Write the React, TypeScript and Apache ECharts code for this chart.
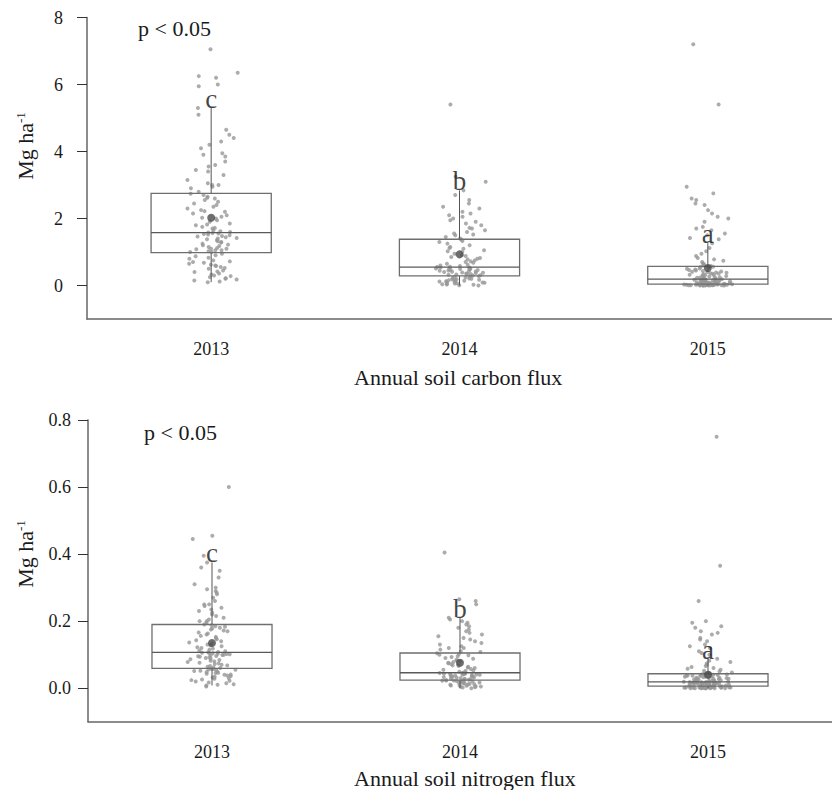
import React, { useEffect, useRef } from "react";
import * as echarts from "echarts";

const years = ["2013", "2014", "2015"];
const letters = ["c", "b", "a"];
const carbonTicks = [0, 2, 4, 6, 8];
const nitrogenTicks = [0, 0.2, 0.4, 0.6, 0.8];

const carbon2013 = [
  0.1, 0.12, 0.15, 0.18, 0.2, 0.22, 0.25, 0.28, 0.3, 0.33, 0.36, 0.4, 0.42, 0.45, 0.5, 0.52, 0.55, 0.58, 0.6, 0.62, 0.65, 0.68, 0.7, 0.72, 0.75, 0.8, 0.83, 0.87, 0.9, 0.95,
  1.0, 1.0, 1.02, 1.05, 1.05, 1.08, 1.1, 1.1, 1.12, 1.15, 1.18, 1.2, 1.22, 1.25, 1.28, 1.3, 1.32, 1.35, 1.38, 1.4, 1.42, 1.44, 1.46, 1.48, 1.5, 1.52, 1.54, 1.55, 1.57, 1.58,
  1.6, 1.62, 1.65, 1.7, 1.72, 1.75, 1.8, 1.82, 1.85, 1.9, 1.95, 2.0, 2.02, 2.05, 2.1, 2.15, 2.2, 2.22, 2.25, 2.3, 2.35, 2.4, 2.45, 2.5, 2.55, 2.6, 2.62, 2.65, 2.7, 2.74,
  2.8, 2.9, 2.95, 3.0, 3.0, 3.05, 3.15, 3.3, 3.4, 3.45, 3.55, 3.6, 3.7, 3.85, 3.9, 3.95, 4.1, 4.2, 4.3, 4.4, 4.5, 4.65, 5.1, 5.3, 5.95, 6.0, 6.2, 6.25, 6.35, 7.05,
];
const carbon2014 = [
  0.0, 0.01, 0.02, 0.03, 0.04, 0.05, 0.06, 0.07, 0.08, 0.09, 0.1, 0.11, 0.12, 0.13, 0.14, 0.15, 0.16, 0.17, 0.18, 0.19, 0.2, 0.21, 0.22, 0.24, 0.25, 0.27, 0.28,
  0.3, 0.31, 0.32, 0.33, 0.34, 0.35, 0.36, 0.37, 0.38, 0.39, 0.4, 0.41, 0.42, 0.43, 0.44, 0.45, 0.46, 0.47, 0.48, 0.49, 0.5, 0.5, 0.51, 0.52, 0.53, 0.54, 0.55,
  0.56, 0.58, 0.6, 0.62, 0.65, 0.68, 0.7, 0.72, 0.75, 0.78, 0.8, 0.82, 0.85, 0.88, 0.9, 0.95, 1.0, 1.02, 1.05, 1.1, 1.12, 1.15, 1.2, 1.25, 1.3, 1.33, 1.37,
  1.4, 1.45, 1.5, 1.52, 1.55, 1.6, 1.65, 1.7, 1.72, 1.8, 1.85, 1.9, 1.95, 2.0, 2.05, 2.1, 2.15, 2.2, 2.3, 2.35, 2.45, 2.55, 2.7, 2.84, 3.1, 3.25, 5.4,
];
const carbon2015 = [
  0.0, 0.0, 0.0, 0.0, 0.0, 0.005, 0.005, 0.005, 0.01, 0.01, 0.01, 0.01, 0.012, 0.015, 0.015, 0.018, 0.02, 0.02, 0.02, 0.022, 0.025, 0.025, 0.028, 0.03, 0.03, 0.03, 0.032, 0.035, 0.035, 0.037, 0.038, 0.039, 0.04,
  0.04, 0.045, 0.05, 0.05, 0.055, 0.06, 0.065, 0.07, 0.07, 0.075, 0.08, 0.085, 0.09, 0.095, 0.1, 0.1, 0.105, 0.11, 0.115, 0.12, 0.125, 0.13, 0.135, 0.14, 0.145, 0.15, 0.155, 0.16, 0.165, 0.17, 0.175, 0.18, 0.185,
  0.19, 0.2, 0.21, 0.22, 0.23, 0.24, 0.25, 0.26, 0.27, 0.28, 0.29, 0.3, 0.31, 0.32, 0.33, 0.34, 0.35, 0.36, 0.37, 0.38, 0.39, 0.4, 0.41, 0.42, 0.43, 0.45, 0.46, 0.48, 0.5, 0.51, 0.53, 0.55, 0.56,
  0.58, 0.6, 0.63, 0.66, 0.7, 0.74, 0.78, 0.82, 0.88, 0.95, 1.02, 1.12, 1.26, 1.38, 1.42, 1.5, 1.55, 1.65, 1.7, 1.75, 1.9, 2.0, 2.05, 2.15, 2.25, 2.4, 2.45, 2.55, 2.6, 2.75, 2.95, 5.4, 7.2,
];

const nitrogen2013 = [
  0.005, 0.008, 0.01, 0.012, 0.015, 0.017, 0.02, 0.022, 0.024, 0.026, 0.028, 0.03, 0.032, 0.034, 0.036, 0.038, 0.04, 0.041, 0.043, 0.045, 0.046, 0.048, 0.05, 0.051, 0.052, 0.054, 0.055, 0.056, 0.057, 0.058,
  0.06, 0.062, 0.064, 0.066, 0.068, 0.07, 0.072, 0.074, 0.076, 0.078, 0.08, 0.082, 0.084, 0.086, 0.088, 0.09, 0.092, 0.094, 0.095, 0.096, 0.098, 0.099, 0.1, 0.101, 0.102, 0.103, 0.104, 0.105, 0.106, 0.107,
  0.108, 0.11, 0.112, 0.115, 0.118, 0.12, 0.122, 0.125, 0.128, 0.13, 0.133, 0.136, 0.14, 0.143, 0.146, 0.15, 0.153, 0.156, 0.16, 0.163, 0.166, 0.17, 0.172, 0.175, 0.178, 0.18, 0.183, 0.185, 0.188, 0.19,
  0.195, 0.2, 0.2, 0.205, 0.21, 0.215, 0.22, 0.225, 0.23, 0.235, 0.24, 0.245, 0.25, 0.25, 0.26, 0.27, 0.28, 0.285, 0.29, 0.295, 0.3, 0.31, 0.33, 0.35, 0.36, 0.375, 0.395, 0.445, 0.455, 0.6,
];
const nitrogen2014 = [
  0.0, 0.002, 0.003, 0.004, 0.005, 0.006, 0.007, 0.008, 0.009, 0.01, 0.011, 0.012, 0.013, 0.014, 0.015, 0.016, 0.017, 0.018, 0.019, 0.02, 0.02, 0.021, 0.022, 0.022, 0.023, 0.023, 0.024,
  0.025, 0.026, 0.027, 0.028, 0.029, 0.03, 0.031, 0.032, 0.033, 0.034, 0.035, 0.035, 0.036, 0.037, 0.038, 0.039, 0.04, 0.04, 0.041, 0.042, 0.042, 0.043, 0.044, 0.044, 0.045, 0.045, 0.046,
  0.047, 0.049, 0.051, 0.053, 0.055, 0.057, 0.06, 0.062, 0.064, 0.066, 0.068, 0.07, 0.072, 0.074, 0.076, 0.078, 0.08, 0.082, 0.085, 0.088, 0.09, 0.093, 0.095, 0.098, 0.1, 0.102, 0.104,
  0.108, 0.11, 0.115, 0.12, 0.12, 0.125, 0.13, 0.135, 0.14, 0.145, 0.15, 0.155, 0.16, 0.165, 0.17, 0.175, 0.18, 0.185, 0.19, 0.195, 0.2, 0.205, 0.21, 0.25, 0.26, 0.265, 0.405,
];
const nitrogen2015 = [
  0, 0, 0, 0, 0, 0, 0, 0, 0.001, 0.001, 0.001, 0.001, 0.001, 0.002, 0.002, 0.002, 0.002, 0.002, 0.003, 0.003, 0.003, 0.003, 0.003, 0.004, 0.004, 0.004, 0.004, 0.005, 0.005, 0.005, 0.005, 0.006, 0.006,
  0.006, 0.007, 0.007, 0.008, 0.008, 0.009, 0.009, 0.01, 0.01, 0.011, 0.011, 0.012, 0.012, 0.013, 0.013, 0.014, 0.014, 0.015, 0.015, 0.015, 0.016, 0.016, 0.016, 0.017, 0.017, 0.017, 0.018, 0.018, 0.018, 0.018, 0.019, 0.019, 0.019,
  0.02, 0.021, 0.022, 0.022, 0.023, 0.024, 0.025, 0.025, 0.026, 0.027, 0.028, 0.028, 0.029, 0.03, 0.031, 0.031, 0.032, 0.033, 0.034, 0.034, 0.035, 0.036, 0.037, 0.037, 0.038, 0.039, 0.04, 0.04, 0.041, 0.041, 0.042, 0.042, 0.043,
  0.045, 0.047, 0.05, 0.052, 0.055, 0.058, 0.06, 0.063, 0.066, 0.07, 0.074, 0.078, 0.082, 0.088, 0.1, 0.105, 0.11, 0.12, 0.125, 0.13, 0.14, 0.145, 0.15, 0.16, 0.165, 0.17, 0.18, 0.185, 0.195, 0.2, 0.26, 0.365, 0.75,
];

// box statistics
const carbonLow = [0.1, 0.0, 0.0];
const carbonQ1 = [0.98, 0.29, 0.04];
const carbonMedian = [1.58, 0.55, 0.19];
const carbonQ3 = [2.75, 1.38, 0.57];
const carbonHigh = [5.3, 2.84, 1.26];
const carbonMean = [2.02, 0.93, 0.52];

const nitrogenLow = [0.008, 0.0, 0.0];
const nitrogenQ1 = [0.059, 0.024, 0.006];
const nitrogenMedian = [0.107, 0.046, 0.019];
const nitrogenQ3 = [0.19, 0.105, 0.043];
const nitrogenHigh = [0.375, 0.21, 0.088];
const nitrogenMean = [0.135, 0.076, 0.04];

const SERIF = '"Liberation Serif", "Times New Roman", serif';
const TEXT = "#1a1a1a";
const HW = 0.242;

// deterministic horizontal jitter (display offset only)
function hash(n: number) {
  const s = Math.sin(n * 12.9898 + 78.233) * 43758.5453;
  return s - Math.floor(s);
}
function jitter(i: number, g: number) {
  const a = hash(i * 3.17 + g * 101.3);
  const b = hash(i * 7.91 + g * 57.1 + 13.7);
  return (a + b - 1) * 0.11;
}

function buildSeries(
  groups: number[][],
  low: number[],
  q1: number[],
  med: number[],
  q3: number[],
  high: number[],
  mean: number[],
  xIdx: number,
  yIdx: number
) {
  const pts: number[][] = [];
  groups.forEach((vals, g) => {
    vals.forEach((v, i) => pts.push([g + 1 + jitter(i, g + yIdx * 3), v]));
  });
  const boxData = years.map((_, g) => [g + 1, low[g], q1[g], med[g], q3[g], high[g]]);
  return [
    {
      type: "scatter",
      xAxisIndex: xIdx,
      yAxisIndex: yIdx,
      data: pts,
      symbol: "circle",
      symbolSize: 4,
      itemStyle: { color: "#979797" },
      silent: true,
      z: 2,
    },
    {
      type: "custom",
      xAxisIndex: xIdx,
      yAxisIndex: yIdx,
      data: boxData,
      encode: { x: 0, y: [1, 2, 3, 4, 5] },
      z: 3,
      renderItem: (params: any, api: any) => {
        const x = api.value(0);
        const pLow = api.coord([x, api.value(1)]);
        const pQ1 = api.coord([x, api.value(2)]);
        const pQ3 = api.coord([x, api.value(4)]);
        const pHigh = api.coord([x, api.value(5)]);
        const tl = api.coord([x - HW, api.value(4)]);
        const br = api.coord([x + HW, api.value(2)]);
        const mL = api.coord([x - HW, api.value(3)]);
        const mR = api.coord([x + HW, api.value(3)]);
        const boxStyle = { stroke: "#6e6e6e", lineWidth: 1.3, fill: null };
        return {
          type: "group",
          children: [
            { type: "line", shape: { x1: pLow[0], y1: pLow[1], x2: pQ1[0], y2: pQ1[1] }, style: { stroke: "#555", lineWidth: 1 } },
            { type: "line", shape: { x1: pQ3[0], y1: pQ3[1], x2: pHigh[0], y2: pHigh[1] }, style: { stroke: "#555", lineWidth: 1 } },
            { type: "rect", shape: { x: tl[0], y: tl[1], width: br[0] - tl[0], height: br[1] - tl[1] }, style: boxStyle },
            { type: "line", shape: { x1: mL[0], y1: mL[1], x2: mR[0], y2: mR[1] }, style: { stroke: "#5a5a5a", lineWidth: 1.3 } },
          ],
        };
      },
    },
    {
      type: "scatter",
      xAxisIndex: xIdx,
      yAxisIndex: yIdx,
      data: mean.map((m, g) => [g + 1, m]),
      symbolSize: 8,
      itemStyle: { color: "#4a4a4a" },
      z: 4,
    },
    {
      type: "scatter",
      xAxisIndex: xIdx,
      yAxisIndex: yIdx,
      data: high.map((h, g) => [g + 1, h]),
      symbolSize: 1,
      itemStyle: { color: "rgba(0,0,0,0)" },
      z: 5,
      label: {
        show: true,
        position: "inside",
        offset: [0, -9],
        formatter: (p: any) => letters[p.dataIndex],
        fontSize: 27,
        fontFamily: SERIF,
        color: "#111",
      },
    },
  ];
}

function catAxis(gridIndex: number) {
  return {
    type: "category",
    gridIndex,
    data: years,
    boundaryGap: true,
    axisLine: { onZero: false, lineStyle: { color: "#666", width: 1.5 } },
    axisTick: { alignWithLabel: true, length: 9, lineStyle: { color: "#333", width: 1 } },
    axisLabel: { margin: 21, fontSize: 18, fontFamily: SERIF, color: TEXT },
    splitLine: { show: false },
  };
}

function valXAxis(gridIndex: number) {
  return { type: "value", gridIndex, min: 0.5, max: 3.5, show: false };
}

function yAxis(gridIndex: number, min: number, max: number, ticks: number[], margin: number, digits: number) {
  return {
    type: "value",
    gridIndex,
    min,
    max,
    axisLine: { show: true, onZero: false, lineStyle: { color: "#666", width: 1.5 } },
    axisTick: { show: true, length: 10, customValues: ticks, lineStyle: { color: "#333", width: 1 } },
    axisLabel: {
      customValues: ticks,
      margin,
      fontSize: 18,
      fontFamily: SERIF,
      color: TEXT,
      formatter: (v: number) => v.toFixed(digits),
    },
    splitLine: { show: false },
  };
}

function yTitle(x: number, y: number) {
  return {
    type: "text",
    x,
    y,
    rotation: Math.PI / 2,
    style: {
      text: "{n|Mg ha}{s|-1}",
      align: "center",
      verticalAlign: "middle",
      rich: {
        n: { fontSize: 22, fontFamily: SERIF, fill: TEXT, lineHeight: 22 },
        s: { fontSize: 13, fontFamily: SERIF, fill: TEXT, verticalAlign: "top", lineHeight: 22, padding: [0, 0, 8, 0] },
      },
    },
  };
}

function plainText(x: number, y: number, text: string) {
  return {
    type: "text",
    x,
    y,
    style: { text, fontSize: 22, fontFamily: SERIF, fill: TEXT, align: "left", verticalAlign: "middle" },
  };
}

export default function App() {
  const ref = useRef<HTMLDivElement>(null);
  useEffect(() => {
    if (!ref.current) return;
    const chart = echarts.init(ref.current, null, { renderer: "svg" });
    const option: any = {
      animation: false,
      backgroundColor: "#ffffff",
      grid: [
        { left: 87, right: -11, top: 17.5, height: 301.5 },
        { left: 88, right: -11, top: 420, height: 301.7 },
      ],
      xAxis: [catAxis(0), valXAxis(0), catAxis(1), valXAxis(1)],
      yAxis: [yAxis(0, -1, 8, carbonTicks, 24, 0), yAxis(1, -0.1, 0.8, nitrogenTicks, 17, 1)],
      series: [
        ...buildSeries([carbon2013, carbon2014, carbon2015], carbonLow, carbonQ1, carbonMedian, carbonQ3, carbonHigh, carbonMean, 1, 0),
        ...buildSeries([nitrogen2013, nitrogen2014, nitrogen2015], nitrogenLow, nitrogenQ1, nitrogenMedian, nitrogenQ3, nitrogenHigh, nitrogenMean, 3, 1),
      ],
      graphic: [
        plainText(138, 28.6, "p < 0.05"),
        plainText(144, 432, "p < 0.05"),
        yTitle(25, 146),
        yTitle(25, 554),
        plainText(354, 377, "Annual soil carbon flux"),
        plainText(354, 778, "Annual soil nitrogen flux"),
      ],
    };
    chart.setOption(option);
    return () => chart.dispose();
  }, []);
  return (
    <div
      ref={ref}
      style={{ position: "absolute", left: 0, top: 0, width: 832, height: 790, overflow: "hidden", background: "#fff" }}
    />
  );
}
